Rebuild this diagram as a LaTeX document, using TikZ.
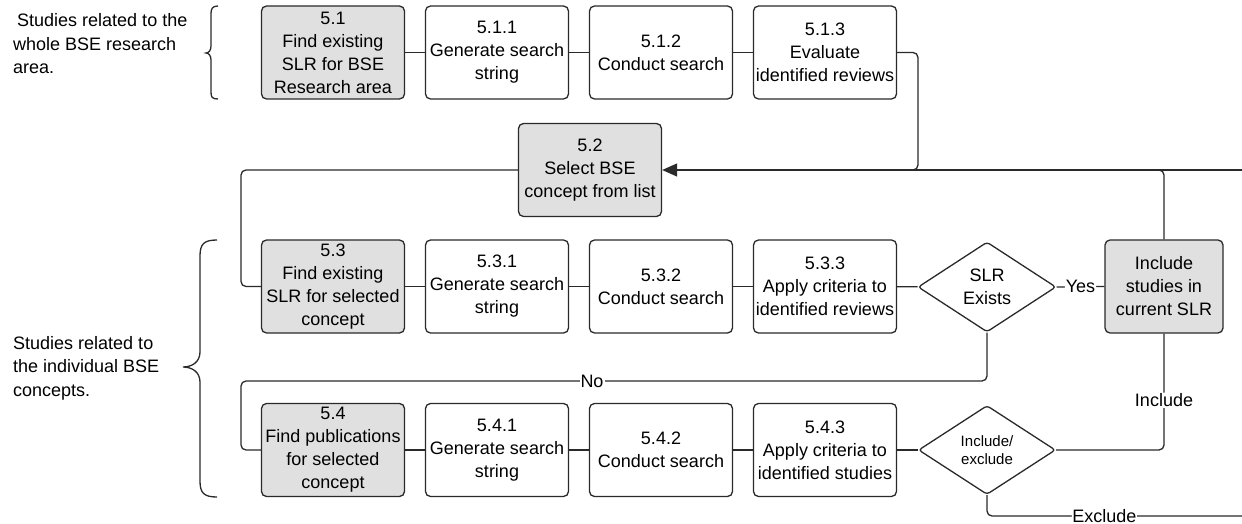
\documentclass[tikz,border=0pt]{standalone}
\usepackage{fontspec}
\setmainfont{Liberation Sans}
\usetikzlibrary{shapes.geometric,arrows.meta}
\definecolor{boxgray}{HTML}{E0E0E0}
\definecolor{ln}{HTML}{2A2A2A}
\begin{document}
\begin{tikzpicture}[x=1pt,y=-1pt,
  every node/.style={font=\fontsize{18}{23}\selectfont, text=black},
  stepbox/.style={draw=ln, line width=1.3pt, rounded corners=5pt, minimum width=143pt, minimum height=93pt, align=center, inner sep=1pt, fill=white},
  graybox/.style={stepbox, fill=boxgray},
  decision/.style={diamond, draw=ln, line width=1.3pt, rounded corners=3pt, minimum width=138pt, minimum height=90pt, inner sep=0pt, align=center, fill=white},
  conn/.style={draw=ln, line width=1.3pt, rounded corners=5pt},
  lbl/.style={fill=white, inner sep=1pt},
  sidetext/.style={anchor=west, align=left, inner sep=0pt, font=\fontsize{18}{23.5}\selectfont},
  bracestyle/.style={draw=ln, line width=1.3pt}
]
\useasboundingbox (0,0) rectangle (1242,524);

% side texts
\node[sidetext] (t1) at (13,44) {\hspace{4pt}Studies related to the\\whole BSE research\\area.};
\node[sidetext] (t2) at (13,368) {Studies related to\\the individual BSE\\concepts.};

% braces
\draw[bracestyle] (218,6) .. controls (212,6) and (211,9) .. (211,14) -- (211,46)
  .. controls (211,50) and (209,53) .. (206,53) .. controls (209,53) and (211,56) .. (211,60)
  -- (211,92) .. controls (211,97) and (212,99) .. (218,99);
\draw[bracestyle] (217,240) .. controls (204,240) and (200,244) .. (200,256) -- (200,352)
  .. controls (200,362) and (192,367) .. (183,367) .. controls (192,367) and (200,372) .. (200,382)
  -- (200,481) .. controls (200,493) and (204,497) .. (217,497);

% row 1
\node[graybox] (n51) at (333,52.5) {5.1\\Find existing\\SLR for BSE\\Research area};
\node[stepbox] (n511) at (497,52.5) {5.1.1\\Generate search\\string};
\node[stepbox] (n512) at (661,52.5) {5.1.2\\Conduct search};
\node[stepbox] (n513) at (825,52.5) {5.1.3\\Evaluate\\identified reviews};

% 5.2
\node[graybox] (n52) at (590,170) {5.2\\Select BSE\\concept from list};

% row 2
\node[graybox] (n53) at (333,286.5) {5.3\\Find existing\\SLR for selected\\concept};
\node[stepbox] (n531) at (497,286.5) {5.3.1\\Generate search\\string};
\node[stepbox] (n532) at (661,286.5) {5.3.2\\Conduct search};
\node[stepbox] (n533) at (825,286.5) {5.3.3\\Apply criteria to\\identified reviews};
\node[decision] (d1) at (987,287) {SLR\\Exists};
\node[graybox, minimum width=118pt] (inc) at (1164,286.5) {Include\\studies in\\current SLR};

% row 3
\node[graybox] (n54) at (333,450) {5.4\\Find publications\\for selected\\concept};
\node[stepbox] (n541) at (497,450) {5.4.1\\Generate search\\string};
\node[stepbox] (n542) at (661,450) {5.4.2\\Conduct search};
\node[stepbox] (n543) at (825,450) {5.4.3\\Apply criteria to\\identified studies};
\node[decision, font=\fontsize{15}{18}\selectfont, minimum width=137pt, minimum height=89pt] (d2) at (987,450) {Include/\\exclude};

% helper coordinates
\coordinate (c1) at (918,170);
\coordinate (c2) at (880,170);
\coordinate (c3) at (241,381);
\coordinate (c4) at (241,286.5);
\coordinate (rightA) at (1242,170);
\coordinate (rightB) at (1242,516);

% connectors row 1
\draw[conn] (n51) -- (n511);
\draw[conn] (n511) -- (n512);
\draw[conn] (n512) -- (n513);
\draw[conn] (n513.east) -| (c1) -- (c2);
\draw[conn] (inc.north) |- (c2);
\draw[conn, -{Triangle[length=15pt,width=13pt]}] (rightA) -- (n52.east);

% 5.2 to 5.3
\draw[conn] (n52.west) -| (c4) -- (n53.west);

% row 2
\draw[conn] (n53) -- (n531);
\draw[conn] (n531) -- (n532);
\draw[conn] (n532) -- (n533);
\draw[conn] (n533) -- (d1);
\draw[conn] (d1.east) -- node[lbl] (lyes) {Yes} (inc.west);
\draw[conn] (d1.south) |- (c3) |- (n54.west);
\node[lbl] (lno) at (592,381) {No};

% row 3
\draw[conn] (n54) -- (n541);
\draw[conn] (n541) -- (n542);
\draw[conn] (n542) -- (n543);
\draw[conn] (n543) -- (d2);
\draw[conn] (d2.east) -| node[lbl, pos=0.714] (linc) {Include} (inc.south);
\draw[conn] (d2.south) |- node[lbl, pos=0.73, inner sep=0.5pt] (lexc) {Exclude} (rightB);
\end{tikzpicture}
\end{document}
